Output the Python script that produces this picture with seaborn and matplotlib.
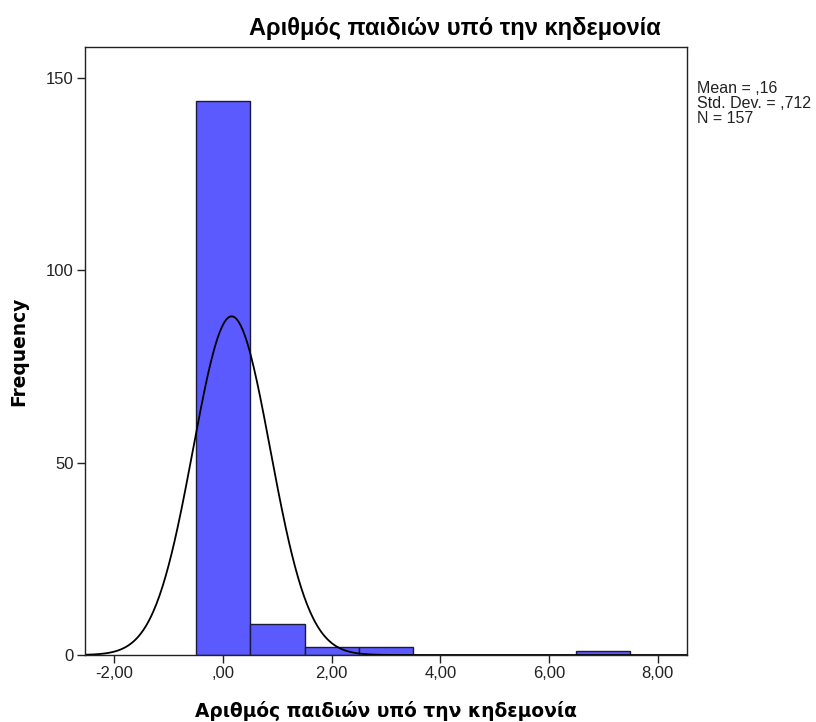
import numpy as np
import pandas as pd
import matplotlib
matplotlib.use("Agg")
import matplotlib.pyplot as plt
import seaborn as sns
from matplotlib.ticker import FuncFormatter

# Number of children under custody: observed values and their frequencies
values = [0, 1, 2, 3, 7]
counts = [144, 8, 2, 2, 1]
title = "Αριθμός παιδιών υπό την κηδεμονία"
y_ticks = [0, 50, 100, 150]
x_ticks = [-2, 0, 2, 4, 6, 8]

data = pd.DataFrame({"children": np.repeat(values, counts)})
n = len(data)
mean = data["children"].mean()
sd = data["children"].std(ddof=1)

sns.set_theme(style="white")
plt.rcParams["font.family"] = ["Liberation Sans", "DejaVu Sans"]

fig = plt.figure(figsize=(8.16, 7.22), dpi=100)
ax = fig.add_axes([85 / 816, 67 / 722, 602 / 816, 608 / 722])

sns.histplot(data=data, x="children", binwidth=1, binrange=(-0.5, 7.5),
             color="#5a5aff", alpha=1, edgecolor="#1a1a3a", linewidth=1.0, ax=ax)

# Normal curve scaled to the histogram (N * bin width * pdf)
xs = np.linspace(-2.54, 8.54, 600)
ys = n * 1.0 * np.exp(-0.5 * ((xs - mean) / sd) ** 2) / (sd * np.sqrt(2 * np.pi))
sns.lineplot(x=xs, y=ys, color="black", linewidth=1.3, ax=ax)

ax.set_xlim(-2.54, 8.54)
ax.set_ylim(0, 158)
ax.set_xticks(x_ticks)
ax.set_yticks(y_ticks)


def comma_fmt(v, pos):
    s = f"{v:.2f}".replace(".", ",")
    if s.startswith("0,"):
        s = s[1:]
    elif s.startswith("-0,"):
        s = "-" + s[2:]
    return s


ax.xaxis.set_major_formatter(FuncFormatter(comma_fmt))
ax.tick_params(axis="both", which="major", direction="out", length=6, width=1,
               color="#222222", labelsize=12, labelcolor="#222222", pad=2,
               bottom=True, left=True)
for sp in ax.spines.values():
    sp.set_color("#222222")
    sp.set_linewidth(1.0)

label_font = dict(family=["DejaVu Sans"], fontsize=13.4, fontweight="bold", color="black")
ax.set_xlabel(title, labelpad=14, **label_font)
ax.set_ylabel("Frequency", labelpad=13, **label_font)

fig.text(455 / 816, 1 - 28 / 722, title, ha="center", va="center",
         fontsize=17, fontweight="bold", color="black")

stats = f"Mean = ,{round(mean * 100):d}\nStd. Dev. = ,{round(sd * 1000):d}\nN = {n}"
fig.text(697 / 816, 1 - 81 / 722, stats, ha="left", va="top", fontsize=11.5,
         linespacing=0.98, color="#222222")

fig.savefig("out.png", dpi=100, facecolor="white")
